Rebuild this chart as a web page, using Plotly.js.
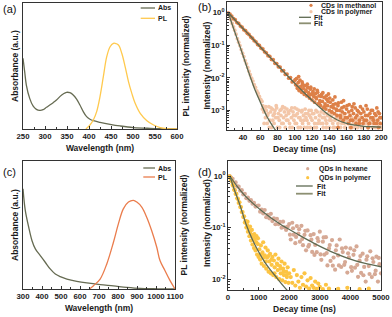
<!DOCTYPE html>
<html><head><meta charset="utf-8">
<script src="https://cdn.plot.ly/plotly-3.0.1.min.js"></script>
<style>html,body{margin:0;padding:0;background:#fff}#chart{width:392px;height:317px}</style>
</head><body><div id="chart"></div>
<script>
// ---------- Panel (a) data ----------
const absA_x = [250,253.8,257.6,265.2,272.8,280.4,288,295.7,303.3,310.9,318.5,326.1,333.7,341.3,348.9,356.5,364.1,371.8,379.4,387,394.6,402.2,409.8,425,447.9,470.7,501.1,539.2,577.2,600];
const absA_y = [0.561,0.455,0.349,0.243,0.183,0.156,0.148,0.153,0.172,0.190,0.209,0.230,0.257,0.278,0.291,0.288,0.270,0.238,0.190,0.138,0.098,0.077,0.066,0.053,0.037,0.024,0.011,0.005,0.002,0.0];
const plA_x = [393,402.2,409.8,417.4,425,432.6,440.3,447.9,455.5,459.3,466.9,474.5,482.1,489.7,497.3,504.9,516.4,531.6,546.8,562,577.2,600];
const plA_y = [0.0,0.032,0.071,0.138,0.257,0.415,0.574,0.653,0.680,0.680,0.667,0.601,0.495,0.376,0.283,0.204,0.124,0.066,0.032,0.011,0.003,0.0];

// ---------- Panel (b) data ----------
const methX = [23,25,27,29,31,33,35,37,39,41,43,45,47,49,51,53,55,57,59,61,63,65,67,69,71,73,75,77,79,81,83,85,87,89,91,93,95,97,99,
 101,102,103,104,105,106,107,108,109,110,111,112,113,114,115,116,117,118,119,120,121,122,123,124,125,126,127,128,129,130,131,132,133,134,135,136,137,138,139,140,141,142,143,144,145,146,147,148,149,150,152,153,154,155,156,157,158,160,161,162,163,164,166,167,168,170,171,172,174,175,176,178,179,180,182,183,184,186,187,188,190,191,192,194,195,196,198,199,200,150,165,185,197,
 100.5,102.5,104.5,106.5,108.5,110.5,112.5,114.5,116.5,118.5,120.5,122.5,124.5,126.5,128.5,130.5,132.5,134.5,136.5,138.5,140.5,142.5,144.5,146.5,148.5,150.5,152.5,154.5,156.5,158.5,160.5,162.5,164.5,166.5,168.5,170.5,172.5,174.5,176.5,178.5,180.5,182.5,184.5,186.5,188.5,190.5,192.5,194.5,196.5,198.5];
const methY = [0.98,0.9,0.79,0.66,0.61,0.5,0.47,0.39,0.36,0.3,0.28,0.235,0.215,0.18,0.165,0.139,0.128,0.106,0.099,0.082,0.077,0.063,0.059,0.048,0.046,0.037,0.036,0.028,0.0275,0.022,0.0215,0.0165,0.0168,0.0128,0.0131,0.0098,0.0102,0.0075,0.0079,
 0.0062,0.0095,0.0048,0.0072,0.0041,0.0085,0.0055,0.0036,0.0066,0.0047,0.0031,0.0058,0.0042,0.0028,0.0051,0.0035,0.0024,0.0045,0.0031,0.0021,0.0038,0.0027,0.0018,0.0033,0.0023,0.0041,0.0016,0.0028,0.0020,0.0014,0.0031,0.0019,0.0012,0.0025,0.0016,0.0011,0.0022,0.0014,0.0032,0.0010,0.0018,0.0013,0.0009,0.0021,0.0012,0.0008,0.0016,0.0011,0.0007,0.0014,0.0010,0.0006,0.0018,0.0009,0.0005,0.0013,0.0008,0.0011,0.0006,0.0004,0.0015,0.0007,0.0010,0.0005,0.0008,0.0012,0.0004,0.0007,0.0009,0.0005,0.0013,0.0006,0.0004,0.0009,0.0007,0.0005,0.0011,0.0004,0.0008,0.0006,0.0010,0.0005,0.0004,0.0007,0.0012,0.0005,0.0008,0.0004,0.0006,0.0003,0.0003,0.0003,0.0003,
 0.0088,0.0057,0.011,0.0045,0.0075,0.0058,0.0038,0.0064,0.0029,0.0052,0.0033,0.0046,0.0025,0.0036,0.0017,0.0027,0.0035,0.0013,0.0028,0.0019,0.0024,0.0009,0.0015,0.0026,0.0010,0.0017,0.0007,0.0012,0.0020,0.0006,0.0014,0.0009,0.0005,0.0013,0.0016,0.0006,0.0010,0.0004,0.0008,0.0011,0.0005,0.0014,0.0007,0.0004,0.0010,0.0006,0.0008,0.0004,0.0009,0.0006];
const polyBX = [23,24.5,26,27.5,29,30.5,32,33.5,35,36.5,38,39.5,41,42.5,44,45.5,47,48.5,50,51.5,53,54.5,56,57.5,59,60.5,62,
 63,64,65,66,67,68,69,70,71,72,73,74,75,76,77,78,79,80,81,82,83,84,85,86,87,88,89,90,91,92,93,94,95,96,97,98,99,100,101,102,103,104,105,106,107,108,109,110,111,112,113,114,115,116,117,118,119,120,122,123,124,125,126,128,129,130,132,133,134,136,137,138,140,141,142,144,145,146,148,150,152,153,155,157,158,160,162,164,166,168,170,172,175,177,180,183,185,188,190,193,196,198,200,
 62.5,64.5,66.5,68.5,70.5,72.5,74.5,76.5,78.5,80.5,82.5,84.5,86.5,88.5,90.5,92.5,94.5,96.5,98.5,100.5,102.5,104.5,106.5,108.5,110.5,112.5,114.5,116.5,118.5,120.5,122.5,124.5,126.5,128.5,130.5,132.5,134.5,136.5,138.5,140.5,142.5,144.5,146.5,148.5,150.5,152.5,154.5,156.5,158.5,160.5,163.5,166.5,169.5,172.5,175.5,178.5,181.5,184.5,187.5,190.5,193.5,196.5,199.5];
const polyBY = [0.95,0.82,0.62,0.47,0.37,0.29,0.22,0.16,0.125,0.098,0.074,0.057,0.045,0.034,0.027,0.021,0.016,0.0125,0.0098,0.008,0.0062,0.0051,0.004,0.0034,0.0027,0.0022,0.0019,
 0.0014,0.0009,0.0012,0.0006,0.0010,0.0004,0.0008,0.0013,0.0005,0.0009,0.0003,0.0011,0.0007,0.0004,0.0010,0.0006,0.0012,0.0003,0.0008,0.0005,0.0010,0.0007,0.0004,0.0013,0.0006,0.0009,0.0003,0.0007,0.0011,0.0005,0.0008,0.0004,0.0010,0.0006,0.0003,0.0009,0.0005,0.0012,0.0007,0.0004,0.0008,0.0003,0.0010,0.0006,0.0005,0.0009,0.0004,0.0007,0.0003,0.0011,0.0006,0.0005,0.0008,0.0004,0.0007,0.0003,0.0010,0.0005,0.0008,0.0004,0.0006,0.0003,0.0009,0.0005,0.0007,0.0004,0.0006,0.0003,0.0008,0.0005,0.0004,0.0007,0.0003,0.0006,0.0005,0.0004,0.0008,0.0003,0.0006,0.0004,0.0005,0.0003,0.0007,0.0004,0.0003,0.0005,0.0004,0.0003,0.0006,0.0004,0.0003,0.0005,0.0004,0.0003,0.0005,0.0004,0.0003,0.0004,0.0003,0.0005,0.0003,0.0004,0.0003,
 0.0011,0.0004,0.0013,0.0007,0.0003,0.0012,0.0005,0.0008,0.0014,0.0006,0.0003,0.0011,0.0004,0.0012,0.0005,0.0009,0.0003,0.0012,0.0007,0.0004,0.0011,0.0006,0.0003,0.0010,0.0005,0.0008,0.0003,0.0010,0.0006,0.0008,0.0003,0.0010,0.0004,0.0007,0.0009,0.0004,0.0006,0.0003,0.0008,0.0005,0.0007,0.0003,0.0005,0.0007,0.0003,0.0006,0.0004,0.0005,0.0003,0.0006,0.0004,0.0003,0.0005,0.0003,0.0006,0.0003,0.0004,0.0003,0.0005,0.0004,0.0003,0.0004,0.0003];
const fitMX = [23,30,40,50,60,70,80,90,100,110,120,130,140,150,160,170,180,190,200];
const fitMY = [1,0.63,0.33,0.174,0.089,0.047,0.0245,0.0129,0.0068,0.0037,0.00204,0.00117,0.00071,0.0005,0.0004,0.000355,0.000324,0.000316,0.000309];
const fitPX = [23,28,33,38,43,48,53,58,63,68,73,78,85];
const fitPY = [1,0.398,0.166,0.0708,0.0282,0.0117,0.00501,0.0024,0.0012,0.00063,0.00038,0.00024,0.00014];

// ---------- Panel (c) data ----------
const absC_x = [300,312,330,347,365,391,417,443,470,496,531,583,636,706,776,846,916,986,1056,1100];
const absC_y = [0.783,0.614,0.483,0.379,0.313,0.261,0.209,0.157,0.117,0.097,0.078,0.060,0.047,0.034,0.024,0.013,0.005,0.002,0.001,0.0];
const plC_x = [650,671,706,741,776,802,828,855,881,899,925,951,977,1004,1021,1047,1074,1100];
const plC_y = [0.0,0.026,0.078,0.196,0.365,0.509,0.626,0.679,0.692,0.679,0.640,0.561,0.457,0.326,0.222,0.144,0.065,0.0];

// ---------- Panel (d) data ----------
const hexX = [50,100,150,200,250,300,350,400,450,500,550,600,650,700,750,800,850,900,950,
 1000,1050,1100,1150,1200,1250,1300,1350,1400,1450,1500,1550,1600,1650,1700,1750,1800,1850,1900,1950,
 2000,2050,2100,2150,2200,2250,2300,2350,2400,2450,2500,2550,2600,2650,2700,2750,2800,2850,2900,2950,
 3000,3050,3100,3150,3200,3250,3300,3350,3400,3450,3500,3550,3600,3650,3700,3750,3800,3850,3900,3950,
 4000,4050,4100,4150,4200,4250,4300,4350,4400,4450,4500,4550,4600,4650,4700,4750,4800,4850,4900,4950,5000,
 2025,2125,2225,2325,2425,2525,2625,2725,2825,2925,3025,3125,3225,3325,3425,3525,3625,3725,3825,3925,4025,4125,4225,4325,4425,4525,4625,4725,4825,4925];
const hexY = [1.0,0.93,0.88,0.74,0.75,0.63,0.62,0.52,0.53,0.44,0.45,0.37,0.38,0.33,0.34,0.29,0.30,0.255,0.265,
 0.268,0.203,0.223,0.188,0.219,0.159,0.176,0.151,0.185,0.134,0.151,0.116,0.147,0.117,0.129,0.0994,0.130,0.101,0.09,0.104,
 0.117,0.0587,0.124,0.073,0.0498,0.107,0.0767,0.0534,0.108,0.0457,0.0723,0.0363,0.0879,0.0465,0.0713,0.0338,0.075,0.046,0.0333,0.0544,
 0.0832,0.0237,0.0533,0.0298,0.0653,0.0185,0.0395,0.0226,0.0573,0.0262,0.0153,0.0451,0.0288,0.0588,0.0172,0.0335,0.019,0.0409,0.0134,0.0265,
 0.0395,0.0145,0.0296,0.0167,0.0431,0.0111,0.0228,0.0132,0.0312,0.0173,0.009,0.0277,0.0179,0.0347,0.011,0.0215,0.0125,0.0273,0.009,0.0195,0.013,
 0.073,0.097,0.066,0.093,0.06,0.0864,0.0428,0.0583,0.0295,0.0622,0.0302,0.0645,0.032,0.0459,0.0183,0.0362,0.0185,0.0395,0.0214,0.0318,0.0171,0.0363,0.019,0.028,0.0119,0.0239,0.0126,0.0254,0.0146,0.0258];
const qdpX = [50,75,100,125,150,175,200,225,250,275,300,325,350,375,400,425,450,475,500,525,550,575,600,625,650,675,700,725,750,775,800,825,850,875,900,925,950,975,1000,
 640,720,780,860,930,980,
 1025,1050,1075,1100,1125,1150,1175,1200,1225,1250,1275,1300,1325,1350,1375,1400,1425,1450,1475,1500,1525,1550,1575,1600,1625,1650,1675,1700,1725,1750,1775,1800,1825,1850,1875,1900,1925,1950,1975,2000,
 1080,1160,1240,1320,1420,1520,1620,1720,1820,1920,
 2050,2100,2150,2200,2250,2300,2350,2400,2450,2500,2550,2600,2650,2700,2750,2800,2850,2900,2950,3000,3100,3200,3300,3600,3900,4300,4600];
const qdpY = [0.98,0.92,0.83,0.79,0.67,0.64,0.54,0.53,0.45,0.45,0.37,0.36,0.30,0.31,0.25,0.25,0.20,0.2,0.16,0.165,0.125,0.135,0.1,0.112,0.083,0.098,0.068,0.082,0.056,0.072,0.047,0.064,0.04,0.058,0.036,0.052,0.03,0.048,0.027,
 0.13,0.105,0.09,0.075,0.068,0.062,
 0.038,0.024,0.045,0.02,0.033,0.052,0.018,0.029,0.041,0.016,0.026,0.036,0.014,0.022,0.031,0.013,0.019,0.027,0.012,0.023,0.017,0.03,0.011,0.02,0.015,0.025,0.01,0.018,0.013,0.022,0.0095,0.016,0.012,0.02,0.0088,0.014,0.011,0.017,0.0085,0.013,
 0.03,0.026,0.022,0.028,0.024,0.013,0.019,0.016,0.014,0.012,
 0.011,0.0085,0.015,0.0075,0.012,0.009,0.0068,0.011,0.0078,0.013,0.0072,0.0095,0.0066,0.0105,0.0075,0.0068,0.009,0.0065,0.0082,0.0071,0.0064,0.0078,0.0066,0.0065,0.0068,0.0064,0.0066];
const fitHX = [60,300,600,1150,1700,2250,2800,3350,3900,4450,5000];
const fitHY = [1,0.631,0.389,0.2,0.117,0.0759,0.0501,0.0347,0.0257,0.0204,0.0174];
const fitQX = [60,200,400,600,800,1000,1200,1400,1600,1800,2000];
const fitQY = [1,0.56,0.263,0.112,0.058,0.034,0.0215,0.0148,0.0105,0.0075,0.0055];

// tick labels
const logTickVals = [1,0.1,0.01,0.001];
const logTickText = ['10<sup>0</sup>','10<sup>-1</sup>','10<sup>-2</sup>','10<sup>-3</sup>'];

// ---------- styling ----------
const W = 392, H = 317;
const FAM = 'Liberation Sans, Arial, sans-serif';
const cAbs = '#666b52', cPLa = '#ffc94d', cPLc = '#ea7c4c';
const cMeth = '#dd8048', cPolyB = '#f3c6a8', cFit = '#5e6a52', cFit2 = '#8c8f72';
const cHex = '#d6a995', cQdp = '#fcc444';
function dx(p){return p/W;}
function dy(p){return 1-p/H;}
const tf = {family:FAM,size:7.8,weight:'bold',color:'#1a1a1a'};
const ttf = {family:FAM,size:8.5,weight:'bold',color:'#1a1a1a'};
function xax(dom, anchor, range, dt, mdt, title){
  return {domain:dom, anchor:anchor, range:range, dtick:dt, tick0:0, tickangle:0, showline:true, linecolor:'#333', linewidth:1, mirror:true,
   ticks:'inside', ticklen:3, tickcolor:'#333', tickfont:tf, showgrid:false, zeroline:false,
   minor:{dtick:mdt, ticks:'inside', ticklen:2, tickcolor:'#333'},
   title:{text:title, font:ttf, standoff:4}};
}
function linY(dom, anchor){
  return {domain:dom, anchor:anchor, range:[0,1], showline:true, linecolor:'#333', linewidth:1, mirror:true,
   showticklabels:false, ticks:'', showgrid:false, zeroline:false};
}
function rightY(over, anchor, title){
  return {overlaying:over, anchor:anchor, side:'right', range:[0,1], showline:false, showticklabels:false, ticks:'',
   showgrid:false, zeroline:false, title:{text:title, font:ttf, standoff:6}};
}
function minorLog(lo, hi){ const a=[]; for(let e=lo;e<=hi;e++){ for(let k=2;k<=9;k++) a.push(k*Math.pow(10,e)); } return a; }
function logY(dom, anchor, range){
  return {domain:dom, anchor:anchor, type:'log', range:range, showline:true, linecolor:'#333', linewidth:1, mirror:true,
   tickmode:'array', tickvals:logTickVals, ticktext:logTickText, ticks:'inside', ticklen:3, tickcolor:'#333', tickfont:tf,
   minor:{tickmode:'array', tickvals:minorLog(-4,0), ticks:'inside', ticklen:2, tickcolor:'#333'},
   showgrid:false, zeroline:false};
}

const traces = [
  {x:absA_x, y:absA_y, xaxis:'x', yaxis:'y', mode:'lines', line:{color:cAbs, width:1.3, shape:'spline'}},
  {x:plA_x, y:plA_y, xaxis:'x', yaxis:'y2', mode:'lines', line:{color:cPLa, width:1.3, shape:'spline'}},
  {x:polyBX, y:polyBY, xaxis:'x2', yaxis:'y3', mode:'markers', marker:{color:cPolyB, size:3.8}},
  {x:methX, y:methY, xaxis:'x2', yaxis:'y3', mode:'markers', marker:{color:cMeth, size:3.8}},
  {x:fitMX, y:fitMY, xaxis:'x2', yaxis:'y3', mode:'lines', line:{color:cFit, width:1.3, shape:'spline'}},
  {x:fitPX, y:fitPY, xaxis:'x2', yaxis:'y3', mode:'lines', line:{color:cFit, width:1.3, shape:'spline'}},
  {x:absC_x, y:absC_y, xaxis:'x3', yaxis:'y4', mode:'lines', line:{color:cAbs, width:1.3, shape:'spline'}},
  {x:plC_x, y:plC_y, xaxis:'x3', yaxis:'y5', mode:'lines', line:{color:cPLc, width:1.3, shape:'spline'}},
  {x:hexX, y:hexY, xaxis:'x4', yaxis:'y6', mode:'markers', marker:{color:cHex, size:4.2}},
  {x:qdpX, y:qdpY, xaxis:'x4', yaxis:'y6', mode:'markers', marker:{color:cQdp, size:4.2}},
  {x:fitHX, y:fitHY, xaxis:'x4', yaxis:'y6', mode:'lines', line:{color:cFit, width:1.3, shape:'spline'}},
  {x:fitQX, y:fitQY, xaxis:'x4', yaxis:'y6', mode:'lines', line:{color:cFit, width:1.3, shape:'spline'}}
];

const lf = {family:FAM, size:7, weight:'bold', color:'#1a1a1a'};
function legText(x, y, t){ return {xref:'paper', yref:'paper', x:dx(x), y:dy(y), text:t, showarrow:false, xanchor:'left', yanchor:'middle', borderpad:0, font:lf}; }
function legLine(x0, x1, y, c, w){ return {type:'line', xref:'paper', yref:'paper', x0:dx(x0), x1:dx(x1), y0:dy(y), y1:dy(y), line:{color:c, width:w}}; }
function legDot(x, y, c){ return {type:'circle', xref:'paper', yref:'paper', x0:dx(x-1.6), x1:dx(x+1.6), y0:dy(y+1.6), y1:dy(y-1.6), fillcolor:c, line:{width:0}}; }
const pf = {family:FAM, size:11, color:'#111'};
function pLab(x, y, t){ return {xref:'paper', yref:'paper', x:dx(x), y:dy(y), text:t, showarrow:false, xanchor:'left', yanchor:'middle', font:pf}; }
function yTitle(x, y, t){ return {xref:'paper', yref:'paper', x:dx(x), y:dy(y), text:t, showarrow:false, textangle:-90, xanchor:'center', yanchor:'middle', borderpad:0, font:ttf}; }

const layout = {
  width:W, height:H, margin:{l:0,r:0,t:0,b:0}, paper_bgcolor:'#fff', plot_bgcolor:'#fff', showlegend:false,
  xaxis: xax([dx(23),dx(177)], 'y', [250,600], 50, 25, 'Wavelength (nm)'),
  yaxis: linY([dy(129),dy(3)], 'x'),
  yaxis2: rightY('y', 'x', 'PL intensity (normalized)'),
  xaxis2: xax([dx(227),dx(382)], 'y3', [21.5,201], 20, 10, 'Decay time (ns)'),
  yaxis3: logY([dy(130),dy(2)], 'x2', [-3.6,0.33]),
  xaxis3: xax([dx(23),dx(175)], 'y4', [300,1100], 100, 50, 'Wavelength (nm)'),
  yaxis4: linY([dy(289),dy(161)], 'x3'),
  yaxis5: rightY('y4', 'x3', 'PL intensity (normalized)'),
  xaxis4: xax([dx(228),dx(381)], 'y6', [0,5000], 1000, 500, 'Decay time (ns)'),
  yaxis6: logY([dy(290),dy(161.3)], 'x4', [-2.21,0.285]),
  shapes: [
    legLine(140.7,155,8,cAbs,1.3), legLine(140.7,155,18.3,cPLa,1.3),
    legDot(311,5.3,cMeth), legDot(311,11.7,cPolyB), legLine(299,311,17.3,cFit,1.3), legLine(299,311,23.3,cFit2,1.8),
    legLine(143.3,155,168,cAbs,1.3), legLine(143.3,155,177,cPLc,1.3),
    legDot(307.7,168.7,cHex), legDot(307.7,177.7,cQdp), legLine(296,312.7,186,cFit,1.3), legLine(296,312.7,193.7,cFit2,1.8)
  ],
  annotations: [
    pLab(1,8.5,'(a)'), pLab(196,7,'(b)'), pLab(1,172,'(c)'), pLab(196,172,'(d)'),
    yTitle(15,66,'Absorbance (a.u.)'), yTitle(206.5,66,'Intensity (normalized)'),
    yTitle(15,225,'Absorbance (a.u.)'), yTitle(207,223,'Intensity (normalized)'),
    legText(157,8,'Abs'), legText(157,18.3,'PL'),
    legText(320,5.3,'CDs in methanol'), legText(320,11.7,'CDs in polymer'), legText(313.3,17.3,'Fit'), legText(313.3,23.3,'Fit'),
    legText(156.7,168,'Abs'), legText(156.7,177,'PL'),
    legText(317.7,168.7,'QDs in hexane'), legText(317.7,177.7,'QDs in polymer'), legText(316,186,'Fit'), legText(316,193.7,'Fit')
  ]
};
Plotly.newPlot('chart', traces, layout, {staticPlot:true, displayModeBar:false});
</script></body></html>
